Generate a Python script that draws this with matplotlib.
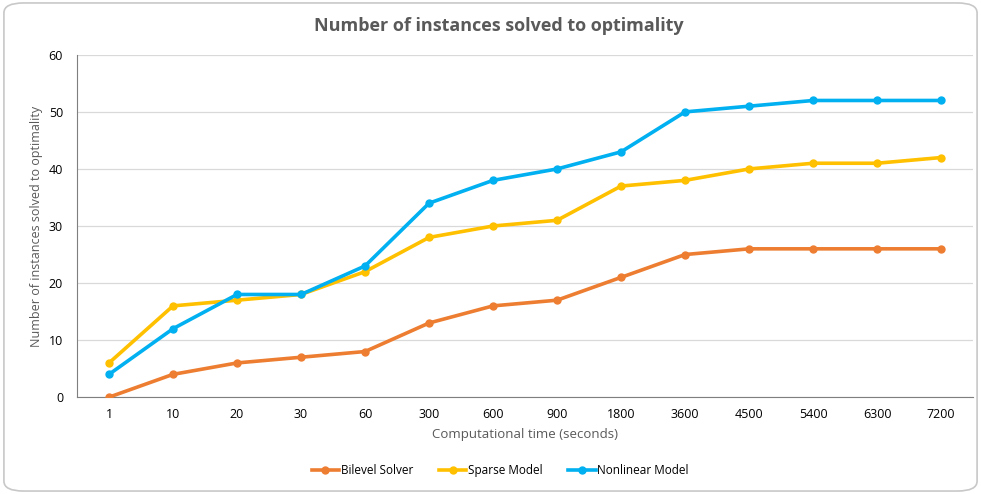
import matplotlib
matplotlib.use("Agg")
import matplotlib.pyplot as plt
from matplotlib.patches import FancyBboxPatch

categories = ["1", "10", "20", "30", "60", "300", "600", "900", "1800", "3600", "4500", "5400", "6300", "7200"]
bilevel = [0, 4, 6, 7, 8, 13, 16, 17, 21, 25, 26, 26, 26, 26]
sparse = [6, 16, 17, 18, 22, 28, 30, 31, 37, 38, 40, 41, 41, 42]
nonlinear = [4, 12, 18, 18, 23, 34, 38, 40, 43, 50, 51, 52, 52, 52]

plt.rcParams['font.family'] = ['Open Sans', 'DejaVu Sans']

fig = plt.figure(figsize=(9.81, 4.94), dpi=100)
border = FancyBboxPatch((0.004, 0.006), 0.992, 0.988, boxstyle="round,pad=0,rounding_size=0.02",
                        transform=fig.transFigure, facecolor="none", edgecolor="#c8c8c8", linewidth=1.2,
                        zorder=10)
fig.patches.append(border)

ax = fig.add_axes([0.0785, 0.196, 0.9135, 0.693])
x = list(range(len(categories)))
ax.plot(x, bilevel, color="#ED7D31", lw=2.6, marker="o", ms=5, label="Bilevel Solver", zorder=3)
ax.plot(x, sparse, color="#FFC000", lw=2.6, marker="o", ms=5, label="Sparse Model", zorder=3)
ax.plot(x, nonlinear, color="#00B0F0", lw=2.6, marker="o", ms=5, label="Nonlinear Model", zorder=4)

ax.set_xlim(-0.5, len(categories) - 0.5)
ax.set_ylim(0, 60)
ax.set_yticks(range(0, 61, 10))
ax.set_xticks(x)
ax.set_xticklabels(categories)
ax.grid(axis="y", color="#d9d9d9", lw=0.9)
ax.set_axisbelow(True)
for s in ["top", "right"]:
    ax.spines[s].set_visible(False)
ax.spines["left"].set_color("#7f7f7f")
ax.spines["bottom"].set_color("#7f7f7f")
ax.tick_params(axis="both", length=0, labelsize=9, colors="black", pad=8)
ax.tick_params(axis="y", pad=10)

ax.set_xlabel("Computational time (seconds)", fontsize=9.5, color="#595959", labelpad=5)
ax.set_ylabel("Number of instances solved to optimality", fontsize=9, color="#595959", labelpad=4)
fig.text(0.508, 0.948, "Number of instances solved to optimality", ha="center", va="center",
         fontsize=13, fontweight="bold", color="#595959")

fig.legend(loc="center", bbox_to_anchor=(0.51, 0.047), ncol=3, frameon=False, fontsize=8.5,
           handlelength=2.3, handletextpad=0.15, columnspacing=2.2)

fig.savefig("out.png", dpi=100)
